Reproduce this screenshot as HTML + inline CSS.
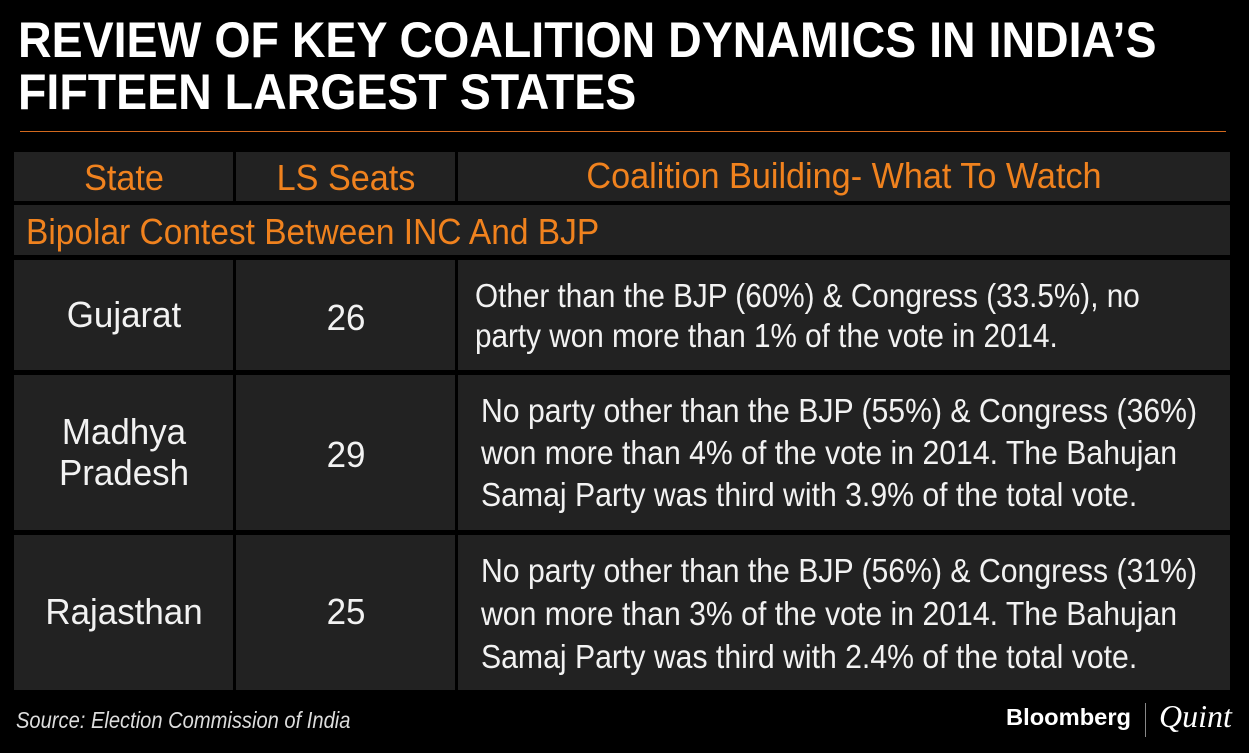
<!DOCTYPE html>
<html><head><meta charset="utf-8"><style>
body{margin:0;width:1249px;height:753px;background:#000;overflow:hidden;font-family:"Liberation Sans",sans-serif;position:relative}
.a{position:absolute}
.cell{position:absolute;background:#222}
.t{position:absolute;white-space:nowrap;transform-origin:0 0}
.c{position:absolute;white-space:nowrap;left:50%;transform:translateX(-50%) scaleX(.97)}
.or{color:#f0821e}
.wh{color:#f2f2f2}
</style></head><body>
<div class="t wh" style="left:18px;top:14px;font-size:50px;font-weight:bold;line-height:52px;transform:scaleX(.93);color:#fff">REVIEW OF KEY COALITION DYNAMICS IN INDIA’S<br>FIFTEEN LARGEST STATES</div>
<div class="a" style="left:20px;top:131px;width:1206px;height:1px;background:#d2691e"></div>

<div class="cell" style="left:14px;top:152px;width:219px;height:49px"><div class="c or" style="top:5px;font-size:36px;transform:translateX(-50%) scaleX(.95)">State</div></div>
<div class="cell" style="left:236px;top:152px;width:219px;height:49px"><div class="c or" style="top:5px;font-size:36px;transform:translateX(-50%) scaleX(.95)">LS Seats</div></div>
<div class="cell" style="left:458px;top:152px;width:772px;height:49px"><div class="c or" style="top:3px;font-size:36px;transform:translateX(-50%) scaleX(.95)">Coalition Building- What To Watch</div></div>

<div class="cell" style="left:14px;top:205px;width:1216px;height:50px"><div class="t or" style="left:12px;top:6px;font-size:36px;transform:scaleX(.93)">Bipolar Contest Between INC And BJP</div></div>

<div class="cell" style="left:14px;top:260px;width:219px;height:110px"><div class="c wh" style="top:34px;font-size:36px">Gujarat</div></div>
<div class="cell" style="left:236px;top:260px;width:219px;height:110px"><div class="c wh" style="top:37px;font-size:36px">26</div></div>
<div class="cell" style="left:458px;top:260px;width:772px;height:110px"><div class="t wh" style="left:17px;top:16px;font-size:33px;line-height:40px;transform:scaleX(.9)">Other than the BJP (60%) &amp; Congress (33.5%), no<br>party won more than 1% of the vote in 2014.</div></div>

<div class="cell" style="left:14px;top:375px;width:219px;height:155px"><div class="c wh" style="top:36px;font-size:36px;text-align:center;line-height:41px">Madhya<br>Pradesh</div></div>
<div class="cell" style="left:236px;top:375px;width:219px;height:155px"><div class="c wh" style="top:59px;font-size:36px">29</div></div>
<div class="cell" style="left:458px;top:375px;width:772px;height:155px"><div class="t wh" style="left:23px;top:15px;font-size:33px;line-height:42px;transform:scaleX(.915)">No party other than the BJP (55%) &amp; Congress (36%)<br>won more than 4% of the vote in 2014. The Bahujan<br>Samaj Party was third with 3.9% of the total vote.</div></div>

<div class="cell" style="left:14px;top:535px;width:219px;height:155px"><div class="c wh" style="top:56px;font-size:36px">Rajasthan</div></div>
<div class="cell" style="left:236px;top:535px;width:219px;height:155px"><div class="c wh" style="top:56px;font-size:36px">25</div></div>
<div class="cell" style="left:458px;top:535px;width:772px;height:155px"><div class="t wh" style="left:23px;top:14px;font-size:33px;line-height:43px;transform:scaleX(.915)">No party other than the BJP (56%) &amp; Congress (31%)<br>won more than 3% of the vote in 2014. The Bahujan<br>Samaj Party was third with 2.4% of the total vote.</div></div>

<div class="t" style="left:16px;top:707px;font-size:23px;font-style:italic;color:#ddd;transform:scaleX(.875)">Source: Election Commission of India</div>
<div class="t" style="left:1006px;top:704px;font-size:23px;font-weight:bold;color:#fff;transform:scaleX(1.03)">Bloomberg</div>
<div class="a" style="left:1145px;top:703px;width:1px;height:34px;background:#888"></div>
<div class="t" style="left:1159px;top:698px;font-size:32px;font-style:italic;font-family:'Liberation Serif',serif;color:#fff">Quint</div>
</body></html>
